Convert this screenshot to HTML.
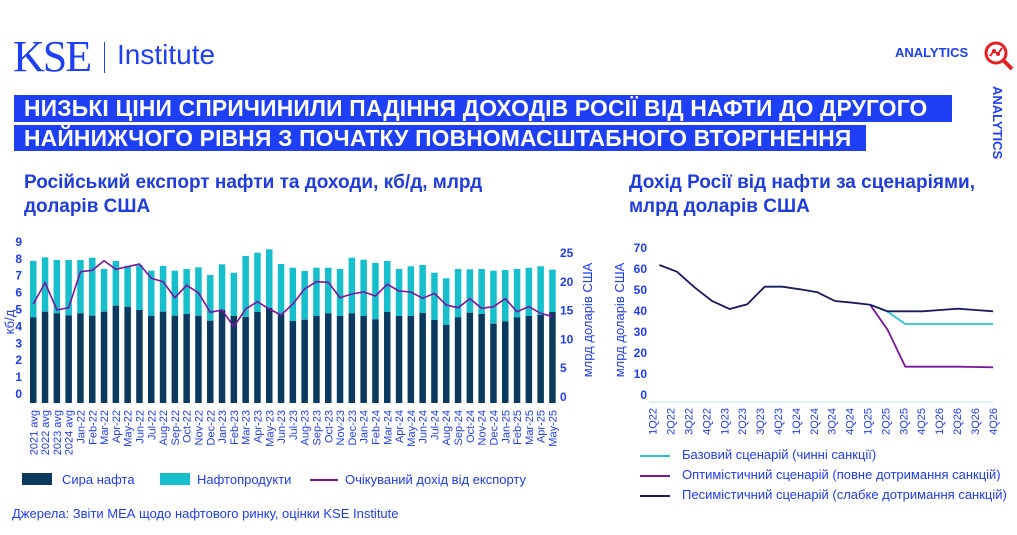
<!DOCTYPE html>
<html><head><meta charset="utf-8">
<style>
body{margin:0;width:1017px;height:535px;background:#fff;position:relative;overflow:hidden;font-family:"Liberation Sans","DejaVu Sans",sans-serif;color:#1f3cf0}
.abs{position:absolute;white-space:nowrap}
.ban{position:absolute;left:14px;background:#1f3ff5;color:#fff;font-weight:bold;font-size:22.8px;letter-spacing:0.2px;padding-left:10px;line-height:27px;overflow:hidden;white-space:nowrap;box-sizing:border-box}
.sub{font-weight:bold;font-size:19px;color:#1f3cdc;line-height:24px}
.leg{font-size:13px;color:#1f3cf0}
</style></head><body>
<div class="abs" style="left:13px;top:35px;font-family:'Liberation Serif',serif;font-size:44px;color:#1f3ff5;letter-spacing:-2px;line-height:44px">KSE</div>
<div class="abs" style="left:104px;top:42px;width:1px;height:31px;background:#1f3ff5"></div>
<div class="abs" style="left:117px;top:39px;font-size:28px;color:#1f3ff5">Institute</div>
<div class="abs" style="left:895px;top:45px;font-size:13px;font-weight:bold;color:#1f3ff5">ANALYTICS</div>
<svg class="abs" style="left:982px;top:40px" width="34" height="34" viewBox="0 0 34 34"><circle cx="14" cy="13" r="10" fill="none" stroke="#e52020" stroke-width="3"/><line x1="21" y1="20" x2="30" y2="29" stroke="#e52020" stroke-width="4"/><polyline points="8,16 12,11 16,14 20,8" fill="none" stroke="#e52020" stroke-width="2"/><circle cx="12" cy="11" r="2" fill="#e52020"/><circle cx="16" cy="14" r="2" fill="#e52020"/></svg>
<div class="abs" style="left:990px;top:86px;font-size:13px;font-weight:bold;color:#1f3ff5;transform-origin:0 0;transform:translate(15px,0) rotate(90deg)">ANALYTICS</div>
<div class="ban" style="top:95px;width:938px;height:27px">НИЗЬКІ ЦІНИ СПРИЧИНИЛИ ПАДІННЯ ДОХОДІВ РОСІЇ ВІД НАФТИ ДО ДРУГОГО</div>
<div class="ban" style="top:125px;width:852px;height:26px">НАЙНИЖЧОГО РІВНЯ З ПОЧАТКУ ПОВНОМАСШТАБНОГО ВТОРГНЕННЯ</div>
<div class="abs sub" style="left:24px;top:171px">Російський експорт нафти та доходи, кб/д, млрд<br>доларів США</div>
<div class="abs sub" style="left:629px;top:171px">Дохід Росії від нафти за сценаріями,<br>млрд доларів США</div>
<svg id="c" class="abs" style="left:0;top:0" width="1017" height="535"></svg>
<div class="abs leg" style="left:22px;top:473px;width:30px;height:12px;background:#0b3a5e"></div>
<div class="abs leg" style="left:62px;top:472px">Сира нафта</div>
<div class="abs leg" style="left:160px;top:473px;width:30px;height:12px;background:#17bfcc"></div>
<div class="abs leg" style="left:197px;top:472px">Нафтопродукти</div>
<div class="abs" style="left:310px;top:479px;width:28px;height:2px;background:#7a169e"></div>
<div class="abs leg" style="left:345px;top:472px">Очікуваний дохід від експорту</div>
<div class="abs leg" style="left:12px;top:506px">Джерела: Звіти МЕА щодо нафтового ринку, оцінки KSE Institute</div>
<div class="abs" style="left:640px;top:455px;width:30px;height:2px;background:#2cc3d0"></div>
<div class="abs leg" style="left:682px;top:447px">Базовий сценарій (чинні санкції)</div>
<div class="abs" style="left:640px;top:475px;width:30px;height:2px;background:#7a169e"></div>
<div class="abs leg" style="left:682px;top:467px">Оптимістичний сценарій (повне дотримання санкцій)</div>
<div class="abs" style="left:640px;top:495px;width:30px;height:2px;background:#1a1a5e"></div>
<div class="abs leg" style="left:682px;top:487px">Песимістичний сценарій (слабке дотримання санкцій)</div>
<script>
var s=document.getElementById('c'),h='';
var crude=[262,245,250,256,250,257,245,227,230,240,257,245,257,252,257,272,240,258,261,246,234,252,273,269,258,250,258,250,258,268,246,258,258,249,270,285,262,248,252,281,274,262,258,255,246];
var tot=[93,82,90,90,90,83,117,93,107,105,122,108,122,117,112,135,103,128,78,68,58,102,113,123,113,113,117,83,89,99,93,117,109,105,128,145,117,118,117,122,120,117,113,109,119];
var line=[222,158,240,233,125,121,92,118,110,102,145,155,203,166,188,247,240,290,237,215,237,255,222,177,155,157,203,192,186,198,163,183,186,205,190,225,233,206,235,230,206,245,230,250,260];
var labs=['2021 avg','2022 avg','2023 avg','2024 avg'];
var mn=['Jan','Feb','Mar','Apr','May','Jun','Jul','Aug','Sep','Oct','Nov','Dec'];
for(var y=22;y<=25;y++)for(var m=0;m<12;m++){if(y==25&&m>4)break;labs.push(mn[m]+'-'+y);}
var pts=[];
for(var i=0;i<45;i++){var x=(78+i*30.68)/2.6,w=6.5;
var yc=230+crude[i]/3,yt=230+tot[i]/3;
h+='<rect x="'+x.toFixed(1)+'" y="'+yt.toFixed(1)+'" width="'+w+'" height="'+(yc-yt).toFixed(1)+'" fill="#17bfcc"/>';
h+='<rect x="'+x.toFixed(1)+'" y="'+yc.toFixed(1)+'" width="'+w+'" height="'+(403-yc).toFixed(1)+'" fill="#0b3a5e"/>';
pts.push((x+w/2).toFixed(1)+','+(230+line[i]/3).toFixed(1));
var lx=x+w/2+4;
h+='<text x="0" y="0" transform="translate('+lx.toFixed(1)+',410) rotate(-90)" text-anchor="end" font-size="11" fill="#1f3cf0">'+labs[i]+'</text>';}
h+='<polyline points="'+pts.join(' ')+'" fill="none" stroke="#7a169e" stroke-width="1.6"/>';
for(var v=0;v<=9;v++){h+='<text x="22" y="'+(398-v*16.9).toFixed(1)+'" text-anchor="end" font-size="12" font-weight="bold" fill="#1f3cf0">'+v+'</text>';}
for(var v=0;v<=25;v+=5){h+='<text x="560" y="'+(401-v*5.76).toFixed(1)+'" font-size="12" font-weight="bold" fill="#1f3cf0">'+v+'</text>';}
h+='<text transform="translate(14,322) rotate(-90)" text-anchor="middle" font-size="13" fill="#1f3cf0">кб/д</text>';
h+='<text transform="translate(592,320) rotate(-90)" text-anchor="middle" font-size="13" fill="#1f3cf0">млрд доларів США</text>';
for(var v=0;v<=70;v+=10){h+='<text x="647" y="'+(399-v*2.1).toFixed(1)+'" text-anchor="end" font-size="12" font-weight="bold" fill="#1f3cf0">'+v+'</text>';}
h+='<text transform="translate(624,320) rotate(-90)" text-anchor="middle" font-size="13" fill="#1f3cf0">млрд доларів США</text>';
h+='<line x1="649" y1="402" x2="993" y2="402" stroke="#b8e6f0" stroke-width="1"/>';
var q=[];for(var y=22;y<=26;y++)for(var k=1;k<=4;k++)q.push(k+'Q'+y);
function X(i){return 600+(178+i*52.7)/3}
for(var i=0;i<20;i++){var lx=600+(158+i*53.7)/3+4;h+='<text transform="translate('+lx.toFixed(1)+',408) rotate(-90)" text-anchor="end" font-size="11" fill="#1f3cf0">'+q[i]+'</text>';}
function pl(arr,st,c){var p=[];for(var i=0;i<arr.length;i++)p.push(X(st+i).toFixed(1)+','+(230+arr[i]/3).toFixed(1));h+='<polyline points="'+p.join(' ')+'" fill="none" stroke="'+c+'" stroke-width="1.8"/>';}
pl([224,245,282,282,282,282,282,282],12,'#2cc3d0');
pl([224,300,410,410,410,410,411,412],12,'#7a169e');
pl([105,125,172,213,237,223,170,170,178,187,213,218,224,244,244,244,240,236,240,244],0,'#1a1a5e');
s.innerHTML=h;
</script>
</body></html>
